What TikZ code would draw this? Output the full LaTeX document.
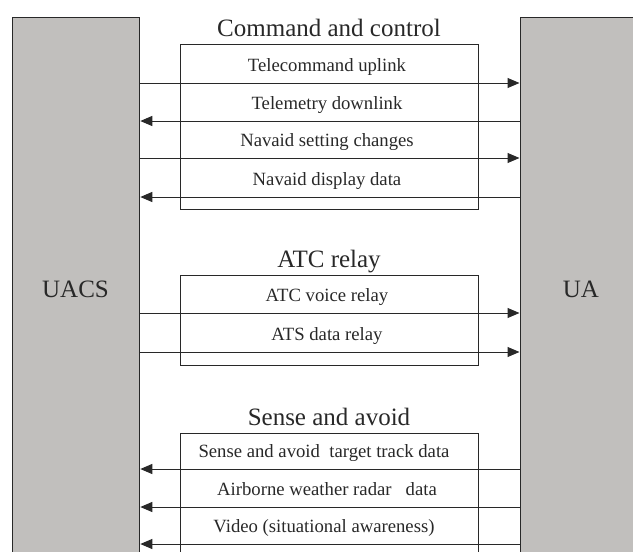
\documentclass[tikz,border=0pt]{standalone}
\usepackage{fontspec}
\setmainfont{Liberation Serif}
\usetikzlibrary{arrows.meta}
\definecolor{boxgray}{RGB}{193,191,189}
\definecolor{inkc}{RGB}{40,40,40}
\tikzset{
  graybox/.style={draw=inkc, line width=1.3pt, fill=boxgray, inner sep=0pt},
  groupbox/.style={draw=inkc, line width=1.2pt},
  flow/.style={draw=inkc, line width=1pt, -{Triangle[length=12pt,width=10pt]}},
  ttl/.style={font=\fontsize{25}{28}\selectfont, text=inkc, anchor=base, inner sep=0pt},
  lbl/.style={font=\fontsize{18.7}{21}\selectfont, text=inkc, anchor=base, inner sep=0pt},
  big/.style={font=\fontsize{25}{28}\selectfont, text=inkc, anchor=base, inner sep=0pt}
}
\begin{document}
\begin{tikzpicture}[x=1pt,y=-1pt]
\useasboundingbox (0,0) rectangle (633,552);
\clip (0,0) rectangle (633,552);
% side blocks
\node[graybox, minimum width=127pt, minimum height=583pt, anchor=north west] (uacs) at (12,16.5) {};
\node[graybox, minimum width=130pt, minimum height=583pt, anchor=north west] (ua) at (519.5,16.5) {};
\node[big] (uacsl) at (75.5,297) {UACS};
\node[big] (ual) at (581,297) {UA};
% group boxes
\node[groupbox, minimum width=298pt, minimum height=165pt, anchor=north west] (cc) at (180,44) {};
\node[groupbox, minimum width=298pt, minimum height=90pt, anchor=north west] (atc) at (180,275) {};
\node[groupbox, minimum width=298pt, minimum height=140pt, anchor=north west] (sa) at (180,433) {};
% titles
\node[ttl] (cct) at (329,36) {Command and control};
\node[ttl] (atct) at (329,267) {ATC relay};
\node[ttl] (sat) at (329,425) {Sense and avoid};
% coordinates for flows
\coordinate (y1) at (0,83);
\coordinate (y2) at (0,121);
\coordinate (y3) at (0,158);
\coordinate (y4) at (0,197);
\coordinate (y5) at (0,313);
\coordinate (y6) at (0,352);
\coordinate (y7) at (0,469);
\coordinate (y8) at (0,507);
\coordinate (y9) at (0,544);
% flows
\draw[flow] (uacs.east |- y1) -- (ua.west |- y1);
\draw[flow] (ua.west |- y2) -- (uacs.east |- y2);
\draw[flow] (uacs.east |- y3) -- (ua.west |- y3);
\draw[flow] (ua.west |- y4) -- (uacs.east |- y4);
\draw[flow] (uacs.east |- y5) -- (ua.west |- y5);
\draw[flow] (uacs.east |- y6) -- (ua.west |- y6);
\draw[flow] (ua.west |- y7) -- (uacs.east |- y7);
\draw[flow] (ua.west |- y8) -- (uacs.east |- y8);
\draw[flow] (ua.west |- y9) -- (uacs.east |- y9);
% labels
\node[lbl] (l1) at (327,71) {Telecommand uplink};
\node[lbl] (l2) at (327,109) {Telemetry downlink};
\node[lbl] (l3) at (327,146) {Navaid setting changes};
\node[lbl] (l4) at (327,185) {Navaid display data};
\node[lbl] (l5) at (327,301) {ATC voice relay};
\node[lbl] (l6) at (327,340) {ATS data relay};
\node[lbl] (l7) at (324,457) {Sense and avoid\ \ target track data};
\node[lbl] (l8) at (327,495) {Airborne weather radar\ \ \ data};
\node[lbl] (l9) at (324,532) {Video (situational awareness)};
\end{tikzpicture}
\end{document}
